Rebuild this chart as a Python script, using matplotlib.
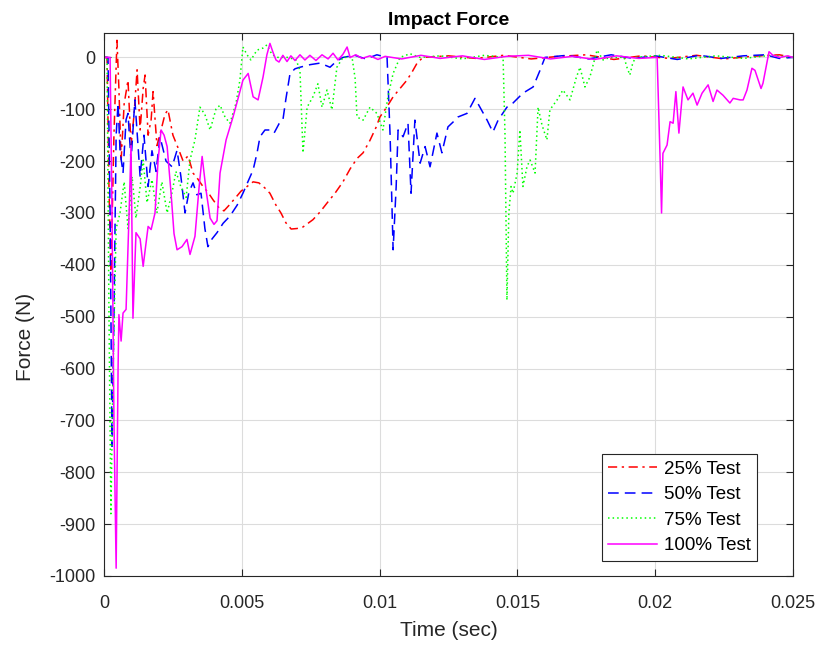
import matplotlib
matplotlib.use('Agg')
import matplotlib.pyplot as plt
from matplotlib.ticker import FuncFormatter

plt.rcParams['font.family'] = ['Liberation Sans', 'DejaVu Sans']
plt.rcParams['axes.unicode_minus'] = False

# 25% Test
t25 = [0, 0.00011, 0.00018, 0.00025, 0.00036, 0.00047, 0.00054, 0.00062, 0.00073, 0.00087,
       0.00098, 0.00109, 0.0012, 0.00131, 0.00142, 0.00149, 0.0016, 0.00171, 0.00178, 0.00192,
       0.00207, 0.00221, 0.00232, 0.0025, 0.00269, 0.00287, 0.00305, 0.00323, 0.00341, 0.00359,
       0.00377, 0.00396, 0.00417, 0.00435, 0.00454, 0.00475, 0.00497, 0.00519, 0.00541, 0.00562,
       0.00584, 0.00602, 0.00624, 0.00642, 0.0066, 0.00679, 0.007, 0.00722, 0.0074, 0.00758,
       0.00784, 0.00809, 0.00838, 0.00867, 0.00893, 0.00918, 0.0094, 0.00965, 0.00987, 0.01001,
       0.01027, 0.01049, 0.01074, 0.01099, 0.01118, 0.01136, 0.01157, 0.0125, 0.0135, 0.0145,
       0.0155, 0.0165, 0.0175, 0.0185, 0.0195, 0.0205, 0.0215, 0.0225, 0.0235, 0.0245, 0.025]
f25 = [0, 0, -250, -420, -150, 33, -60, -200, -90, -44,
       -170, -110, -24, -140, -60, -34, -150, -120, -66, -170,
       -140, -110, -101, -150, -175, -200, -190, -223, -235, -249,
       -260, -275, -290, -296, -285, -272, -258, -249, -240, -242,
       -252, -262, -285, -300, -319, -331, -330, -327, -320, -313,
       -298, -281, -262, -240, -215, -195, -184, -160, -135, -115,
       -95, -76, -60, -44, -28, -11, 0, 3, -2, 4,
       -3, 2, 5, -4, 3, -2, 4, -3, 2, 5, 0]

# 50% Test
t50 = [0, 0.000145, 0.00022, 0.00029, 0.00036, 0.00044, 0.00051, 0.00058, 0.00069, 0.0008,
       0.00087, 0.00098, 0.00112, 0.00131, 0.00145, 0.0016, 0.00174, 0.00189, 0.00203, 0.00225,
       0.00247, 0.00265, 0.00279, 0.00294, 0.00308, 0.00323, 0.00337, 0.00352, 0.00366, 0.00377,
       0.00392, 0.0041, 0.00432, 0.00457, 0.00483, 0.00504, 0.00522, 0.00541, 0.00555, 0.00566,
       0.00584, 0.00602, 0.00617, 0.00635, 0.00649, 0.0066, 0.00675, 0.00693, 0.00711, 0.00748,
       0.00784, 0.00802, 0.0082, 0.00842, 0.00867, 0.0091, 0.0095, 0.0099, 0.01027, 0.01038,
       0.01049, 0.0106, 0.01067, 0.01085, 0.01103, 0.01114, 0.01128, 0.01147, 0.01165, 0.01183,
       0.01208, 0.01226, 0.01248, 0.01266, 0.01284, 0.01317, 0.01346, 0.01364, 0.0139, 0.01411,
       0.0143, 0.01462, 0.01484, 0.0152, 0.01557, 0.01582, 0.016, 0.0168, 0.0176, 0.0184,
       0.0192, 0.02, 0.0208, 0.0216, 0.0224, 0.0232, 0.024, 0.0245, 0.025]
f50 = [0, 0, -300, -750, -500, -150, -88, -180, -223, -120,
       -108, -200, -82, -230, -150, -249, -180, -220, -153, -200,
       -211, -179, -230, -300, -260, -242, -265, -262, -330, -365,
       -350, -338, -320, -306, -285, -262, -240, -217, -185, -153,
       -140, -140, -146, -128, -121, -80, -31, -22, -19, -14,
       -11, -15, -19, -8, 0, 4, -3, 5, 0, -150,
       -371, -250, -140, -153, -127, -262, -121, -204, -172, -211,
       -146, -184, -134, -125, -115, -108, -79, -96, -121, -144,
       -121, -96, -88, -69, -57, -25, 0, 4, -3, 5,
       -2, 3, -4, 4, -2, 3, 5, -2, 0]

# 75% Test
t75 = [0, 0.00011, 0.00018, 0.00025, 0.00033, 0.00044, 0.00058, 0.00073, 0.00087, 0.00102,
       0.00116, 0.00131, 0.00142, 0.00156, 0.00174, 0.00192, 0.0021, 0.00229, 0.00247, 0.00261,
       0.00279, 0.00298, 0.00312, 0.0033, 0.00348, 0.00366, 0.00385, 0.00406, 0.00421, 0.00439,
       0.00457, 0.00479, 0.00493, 0.00504, 0.00519, 0.00533, 0.00555, 0.00577, 0.00591, 0.0061,
       0.00631, 0.00668, 0.00697, 0.00711, 0.00722, 0.00737, 0.00758, 0.00776, 0.00791, 0.00809,
       0.00827, 0.00845, 0.00867, 0.009, 0.00911, 0.00918, 0.0094, 0.00965, 0.0099, 0.01012,
       0.0103, 0.01049, 0.01074, 0.0111, 0.01147, 0.0122, 0.0130, 0.0138, 0.01448, 0.01455,
       0.01462, 0.01469, 0.01477, 0.01484, 0.01499, 0.01509, 0.0152, 0.01535, 0.01546, 0.01564,
       0.01575, 0.01589, 0.01607, 0.01618, 0.01644, 0.01665, 0.01691, 0.01713, 0.01727, 0.01745,
       0.01763, 0.01789, 0.01811, 0.01836, 0.01887, 0.01898, 0.01908, 0.01919, 0.0193, 0.0202,
       0.0212, 0.0222, 0.0232, 0.0242, 0.025]
f75 = [0, 0, -500, -880, -600, -330, -300, -240, -330, -230,
       -310, -250, -198, -280, -236, -300, -240, -300, -260, -220,
       -250, -270, -198, -159, -96, -110, -140, -100, -92, -115,
       -127, -88, -44, 20, 5, -5, 14, 18, 24, 5,
       0, 0, -5, -25, -184, -96, -76, -51, -96, -63,
       -101, -19, 0, 0, -40, -115, -121, -96, -108, -140,
       -76, -31, 0, 7, 0, 3, -3, 4, 0, -150,
       -468, -300, -249, -262, -223, -140, -249, -210, -198, -223,
       -96, -130, -159, -101, -82, -63, -82, -40, -19, -57,
       -38, 14, -5, 0, 0, -20, -34, -10, 0, 4,
       -3, 3, -2, 4, 0]

# 100% Test
t100 = [0, 0.00022, 0.00029, 0.00036, 0.00044, 0.00051, 0.00054, 0.00062, 0.00069, 0.0008,
        0.00091, 0.00098, 0.00105, 0.00116, 0.00131, 0.00142, 0.00152, 0.0016, 0.00171, 0.00185,
        0.00196, 0.00207, 0.00218, 0.00229, 0.00243, 0.00254, 0.00265, 0.00283, 0.00301, 0.00312,
        0.0033, 0.00345, 0.00356, 0.0037, 0.00385, 0.00399, 0.0041, 0.00421, 0.00443, 0.00468,
        0.00486, 0.00504, 0.00523, 0.00541, 0.00559, 0.00577, 0.00591, 0.00602, 0.00613, 0.00624,
        0.00635, 0.00649, 0.00664, 0.00678, 0.00693, 0.00711, 0.00729, 0.00747, 0.00769, 0.00791,
        0.00813, 0.00831, 0.00849, 0.00867, 0.00882, 0.00893, 0.00914, 0.00936, 0.00965, 0.00994,
        0.0102, 0.0108, 0.0115, 0.0122, 0.013, 0.0138, 0.0146, 0.0154, 0.0162, 0.017,
        0.0178, 0.0186, 0.0194, 0.02007, 0.02018, 0.02023, 0.02028, 0.02043, 0.02054, 0.02065,
        0.02075, 0.02086, 0.02101, 0.02119, 0.02137, 0.02152, 0.0217, 0.02192, 0.0221, 0.02224,
        0.02246, 0.02271, 0.02283, 0.02308, 0.02319, 0.02333, 0.02351, 0.02362, 0.02384, 0.02391,
        0.02413, 0.02427, 0.02453, 0.0248, 0.025]
f100 = [0, 0, -300, -700, -985, -600, -496, -547, -493, -486,
        -300, -170, -503, -338, -350, -403, -360, -326, -332, -300,
        -200, -140, -150, -172, -260, -340, -371, -365, -351, -380,
        -345, -250, -191, -255, -310, -322, -315, -223, -159, -115,
        -80, -44, -31, -76, -82, -38, 5, 27, 10, -5,
        -9, 4, -8, 3, -6, 5, -5, 4, -6, 5,
        -3, 8, -5, 6, 20, 0, 5, -2, 3, -4,
        2, -3, 4, -2, 3, -4, 2, 4, -3, 2,
        -4, 3, -2, 0, -200, -300, -185, -169, -124, -127,
        -66, -146, -57, -82, -69, -92, -69, -53, -85, -63,
        -73, -88, -79, -82, -82, -63, -21, -25, -60, -50,
        11, 4, 0, 3, 0]

# colour, dash pattern, label
series = [
    (t25, f25, '#ff0000', (0, (6, 3, 1.5, 3)), '25% Test'),
    (t50, f50, '#0000ff', (0, (7, 4)), '50% Test'),
    (t75, f75, '#00ff00', (0, (1, 2)), '75% Test'),
    (t100, f100, '#ff00ff', '-', '100% Test'),
]

fig = plt.figure(figsize=(8.21, 6.46), dpi=100)
ax = fig.add_axes([0.1267, 0.1084, 0.8392, 0.8405])

for t, f, c, ls, lab in series:
    ax.plot(t, f, color=c, linestyle=ls, linewidth=1.1, label=lab)

ax.set_xlim(0, 0.025)
ax.set_ylim(-1000, 47)
ax.set_xticks([0, 0.005, 0.01, 0.015, 0.02, 0.025])
ax.set_yticks(range(-1000, 1, 100))
ax.xaxis.set_major_formatter(FuncFormatter(lambda v, p: '%g' % round(v, 4)))

ax.grid(True, color='#dcdcdc', linewidth=0.8)
ax.set_axisbelow(True)
ax.tick_params(direction='in', top=True, right=True, length=5, labelsize=13,
               colors='#262626')
ax.tick_params(axis='x', pad=14)
ax.tick_params(axis='y', pad=6)
for s in ax.spines.values():
    s.set_color('#262626')
    s.set_linewidth(0.8)

ax.set_title('Impact Force', fontsize=14, fontweight='bold', pad=6)
ax.set_xlabel('Time (sec)', fontsize=15, color='#262626', labelpad=6)
ax.set_ylabel('Force (N)', fontsize=15, color='#262626')
ax.yaxis.set_label_coords(-0.1, 0.44)

leg = ax.legend(loc='lower right', bbox_to_anchor=(0.948, 0.028), borderaxespad=0,
                fontsize=13.5, fancybox=False, framealpha=1, edgecolor='#262626',
                handlelength=2.6, borderpad=0.35, labelspacing=0.45, handletextpad=0.35)
leg.get_frame().set_linewidth(0.8)

fig.savefig('out.png', dpi=100)
